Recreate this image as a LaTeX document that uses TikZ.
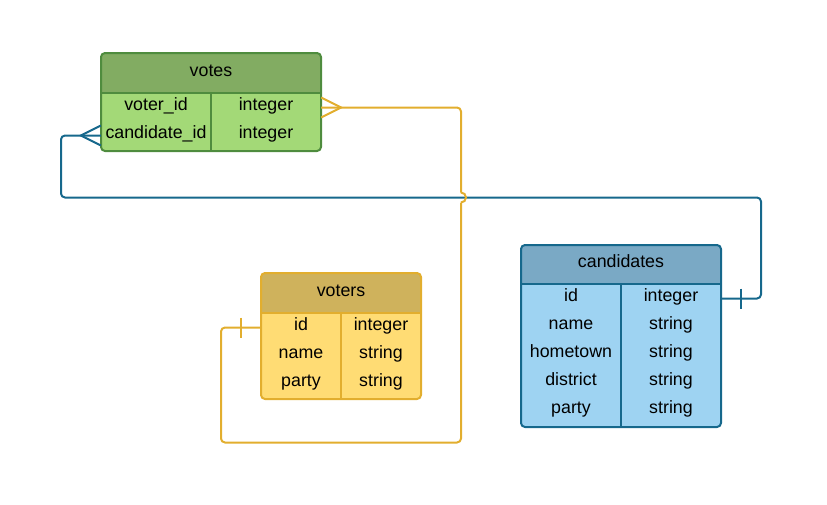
\documentclass[tikz,border=0pt]{standalone}
\usepackage{fontspec}
\setmainfont{Liberation Sans}
\usetikzlibrary{calc}
\definecolor{voteshead}{RGB}{130,172,98}
\definecolor{votesbody}{RGB}{163,217,119}
\definecolor{votesline}{RGB}{79,140,62}
\definecolor{votershead}{RGB}{207,178,92}
\definecolor{votersbody}{RGB}{255,220,116}
\definecolor{votersline}{RGB}{226,174,46}
\definecolor{candhead}{RGB}{122,169,197}
\definecolor{candbody}{RGB}{158,211,242}
\definecolor{candline}{RGB}{22,104,140}
\tikzset{
  cell/.style={inner sep=0pt, minimum height=28pt, text height=12.7pt, text depth=6.7pt,
    font=\fontsize{17.8}{20}\selectfont},
  title/.style={cell, minimum height=40pt},
  yline/.style={draw=votersline, line width=2pt},
  bline/.style={draw=candline, line width=2pt}
}

\begin{document}
\begin{tikzpicture}[x=1pt, y=-1pt]
\useasboundingbox (0,0) rectangle (827,504);

%votes
\begin{scope}
  \clip[rounded corners=4pt] (101,53) rectangle (321,151);
  \fill[votesbody] (101,53) rectangle (321,151);
  \fill[voteshead] (101,53) rectangle (321,93);
\end{scope}
\draw[votesline, line width=2pt] (101,93) -- (321,93);
\draw[votesline, line width=2pt] (211,93) -- (211,151);
\draw[votesline, line width=2pt, rounded corners=4pt] (101,53) rectangle (321,151);
\node[title] (votes) at (211,73) {votes};
\node[cell, minimum width=110pt] (votes-voter-name) at (156,107.5) {voter\_id};
\node[cell, minimum width=110pt] (votes-voter-type) at (266,107.5) {integer};
\node[cell, minimum width=110pt] (votes-cand-name) at (156,135.5) {candidate\_id};
\node[cell, minimum width=110pt] (votes-cand-type) at (266,135.5) {integer};

%voters
\begin{scope}
  \clip[rounded corners=4pt] (261,273) rectangle (421,399);
  \fill[votersbody] (261,273) rectangle (421,399);
  \fill[votershead] (261,273) rectangle (421,313);
\end{scope}
\draw[votersline, line width=2pt] (261,313) -- (421,313);
\draw[votersline, line width=2pt] (341,313) -- (341,399);
\draw[votersline, line width=2pt, rounded corners=4pt] (261,273) rectangle (421,399);
\node[title] (voters) at (341,293) {voters};
\node[cell, minimum width=80pt] (voters-id-name) at (301,327.5) {id};
\node[cell, minimum width=80pt] (voters-id-type) at (381,327.5) {integer};
\node[cell, minimum width=80pt] (voters-name-name) at (301,355.5) {name};
\node[cell, minimum width=80pt] (voters-name-type) at (381,355.5) {string};
\node[cell, minimum width=80pt] (voters-party-name) at (301,383.5) {party};
\node[cell, minimum width=80pt] (voters-party-type) at (381,383.5) {string};

%candidates
\begin{scope}
  \clip[rounded corners=4pt] (521,245) rectangle (721,427);
  \fill[candbody] (521,245) rectangle (721,427);
  \fill[candhead] (521,245) rectangle (721,284);
\end{scope}
\draw[candline, line width=2pt] (521,284) -- (721,284);
\draw[candline, line width=2pt] (621,284) -- (621,427);
\draw[candline, line width=2pt, rounded corners=4pt] (521,245) rectangle (721,427);
\node[title, minimum height=39pt] (candidates) at (621,264.5) {candidates};
\node[cell, minimum width=100pt] (cand-id-name) at (571,298.5) {id};
\node[cell, minimum width=100pt] (cand-id-type) at (671,298.5) {integer};
\node[cell, minimum width=100pt] (cand-name-name) at (571,326.5) {name};
\node[cell, minimum width=100pt] (cand-name-type) at (671,326.5) {string};
\node[cell, minimum width=100pt] (cand-town-name) at (571,354.5) {hometown};
\node[cell, minimum width=100pt] (cand-town-type) at (671,354.5) {string};
\node[cell, minimum width=100pt] (cand-dist-name) at (571,382.5) {district};
\node[cell, minimum width=100pt] (cand-dist-type) at (671,382.5) {string};
\node[cell, minimum width=100pt] (cand-party-name) at (571,410.5) {party};
\node[cell, minimum width=100pt] (cand-party-type) at (671,410.5) {string};

%votes -- candidates
\coordinate (cfoot) at ($(votes-cand-name.west)+(-20,0)$);
\draw[bline] ($(votes-cand-name.west)+(0,-10)$) -- (cfoot) -- ($(votes-cand-name.west)+(0,10)$);
\draw[bline, rounded corners=4pt] (votes-cand-name.west) -- (61,135.5) -- (61,197.5)
  coordinate (cross) -- (761,197.5) -- (761,298.5) -- (cand-id-type.east);
\draw[bline] ($(cand-id-type.east)+(20,-10)$) -- +(0,20);

%votes -- voters
\coordinate (vfoot) at ($(votes-voter-type.east)+(20,0)$);
\coordinate (jump) at (461,197.5);
\draw[yline] ($(votes-voter-type.east)+(0,-10)$) -- (vfoot) -- ($(votes-voter-type.east)+(0,10)$);
\draw[yline, rounded corners=4pt] (votes-voter-type.east) -- (461,107.5) -- ($(jump)+(0,-5)$);
\draw[yline] ($(jump)+(0,-5)$) arc[start angle=-90, end angle=90, radius=5];
\draw[yline, rounded corners=4pt] ($(jump)+(0,5)$) -- (461,442.5) -- (221,442.5)
  -- (221,327.5) -- (voters-id-name.west);
\draw[yline] ($(voters-id-name.west)+(-20,-10)$) -- +(0,20);

\end{tikzpicture}
\end{document}
